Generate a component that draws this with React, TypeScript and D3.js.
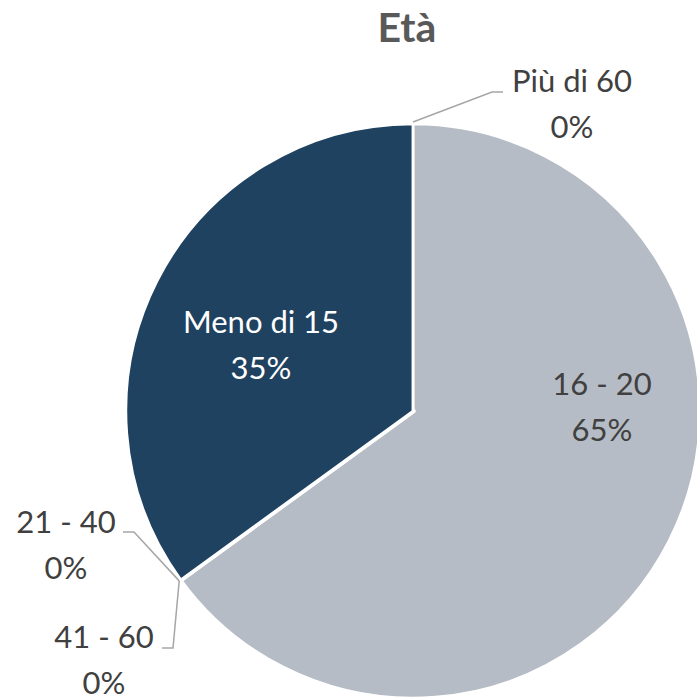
import * as d3 from 'd3';
import React, { useRef, useEffect } from 'react';

// chart data
const categories = ["16 - 20", "21 - 40", "41 - 60", "Meno di 15", "Più di 60"];
const values = [65, 0, 0, 35, 0];
const colors = ["#B6BCC5", "#8497B0", "#D6DCE4", "#1F4260", "#ADB9CA"];
const title = "Età";

// label layout, relative to the pie centre
const labelLayout: Record<string, { x: number; y: number; tail?: [number, number]; fill: string }> = {
  "16 - 20": { x: 189, y: -16, fill: "#404040" },
  "Meno di 15": { x: -152, y: -78, fill: "#FFFFFF" },
  "Più di 60": { x: 159, y: -319, tail: [90, -319], fill: "#404040" },
  "21 - 40": { x: -347, y: 122, tail: [-290, 121], fill: "#404040" },
  "41 - 60": { x: -309, y: 237, tail: [-251, 237], fill: "#404040" },
};

const W = 697;
const H = 698;
const cx = 413;
const cy = 411;
const R = 287;
const font = "Lato, 'Open Sans', sans-serif";

function PieChart() {
  const ref = useRef<SVGSVGElement>(null);

  useEffect(() => {
    const svg = d3.select(ref.current);
    svg.selectAll("*").remove();

    const data = categories.map((c, i) => ({ name: c, value: values[i], color: colors[i] }));
    const total = d3.sum(values);

    const pie = d3.pie<any>().sort(null).value(d => d.value).startAngle(0).endAngle(2 * Math.PI);
    const arcs = pie(data);
    const arc = d3.arc<any>().innerRadius(0).outerRadius(R);

    svg.append("text")
      .attr("x", 407)
      .attr("y", 42)
      .attr("text-anchor", "middle")
      .attr("font-family", font)
      .attr("font-weight", "bold")
      .attr("font-size", 41)
      .attr("fill", "#595959")
      .text(title);

    const g = svg.append("g").attr("transform", `translate(${cx},${cy})`);

    g.selectAll("path.slice")
      .data(arcs)
      .enter()
      .append("path")
      .attr("class", "slice")
      .attr("d", arc)
      .attr("fill", d => d.data.color)
      .attr("stroke", "#FFFFFF")
      .attr("stroke-width", d => (d.data.value === 0 && d.startAngle < Math.PI * 1.9 ? 5 : 2.5))
      .attr("stroke-linejoin", "round");

    // leader lines for outside labels
    arcs.forEach(d => {
      const lay = labelLayout[d.data.name];
      if (!lay.tail) return;
      const a = (d.startAngle + d.endAngle) / 2;
      const p0: [number, number] = [Math.sin(a) * (R + 2), -Math.cos(a) * (R + 2)];
      const side = lay.tail[0] < p0[0] ? 1 : -1;
      const elbow: [number, number] = [lay.tail[0] + side * 11, lay.tail[1]];
      g.append("path")
        .attr("d", d3.line()([p0, elbow, lay.tail]))
        .attr("fill", "none")
        .attr("stroke", "#A6A6A6")
        .attr("stroke-width", 1.5);
    });

    arcs.forEach(d => {
      const lay = labelLayout[d.data.name];
      const t = g.append("text")
        .attr("text-anchor", "middle")
        .attr("font-family", font)
        .attr("font-size", 31)
        .attr("fill", lay.fill);
      t.append("tspan").attr("x", lay.x).attr("y", lay.y).text(d.data.name);
      t.append("tspan").attr("x", lay.x).attr("y", lay.y + 46)
        .text(Math.round((d.data.value / total) * 100) + "%");
    });
  }, []);

  return (
    <svg ref={ref} width={W} height={H}
      style={{ position: 'absolute', left: 0, top: 0, background: '#FFFFFF' }} />
  );
}

export default function App() {
  return <PieChart />;
}
